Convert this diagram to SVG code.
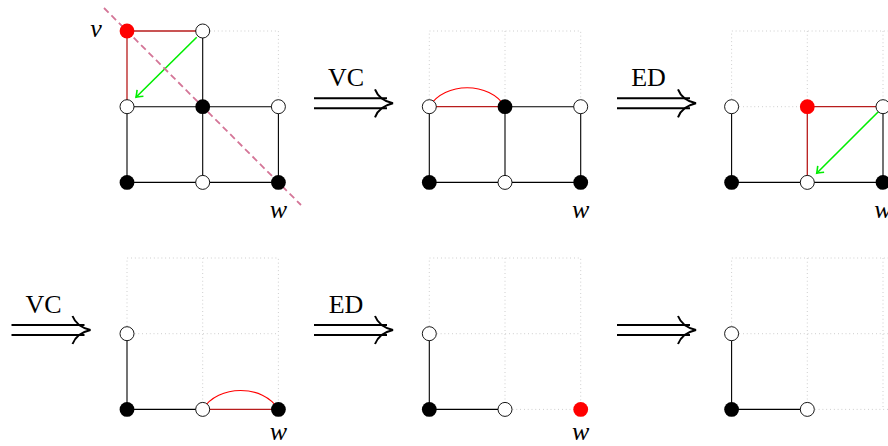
<svg xmlns="http://www.w3.org/2000/svg" width="888" height="446" viewBox="0 0 888 446">
<style>
.grid{stroke:#b4b4b4;stroke-width:0.8;stroke-dasharray:0.8 3;fill:none}
.e{stroke:#000;stroke-width:1.1;fill:none}
.re{stroke:#b81c1c;stroke-width:1.3;fill:none}
.arc{stroke:#ff0000;stroke-width:1.1;fill:none}
.ga{stroke:#00ee00;stroke-width:1.6;fill:none;marker-end:url(#to)}
.cut{stroke:#d47597;stroke-width:1.8;stroke-dasharray:6.5 4;fill:none}
.dbl{stroke:#000;stroke-width:2;fill:none}
.wn{fill:#fff;stroke:#000;stroke-width:0.9}
.bn{fill:#000}
.rn{fill:#ff0000}
.lbl{font-family:"Liberation Serif","DejaVu Serif",serif;font-size:26px;fill:#000;text-anchor:middle}
.it{font-family:"Liberation Serif","DejaVu Serif",serif;font-style:italic;font-size:26px;fill:#000;text-anchor:middle}
</style>
<defs>
<marker id="to" markerUnits="userSpaceOnUse" markerWidth="14" markerHeight="14" refX="0" refY="0" viewBox="-8 -7 10 14" orient="auto">
<path d="M-6,-4.5 Q-1.5,-1 0,0 Q-1.5,1 -6,4.5" stroke="#00ee00" stroke-width="1.6" fill="none"/>
</marker>
<g id="darrow">
<path class="dbl" d="M0,-5 H73 M0,5 H73"/>
<path class="dbl" d="M61,-14 C63.5,-7.5 70,-2 79,0 C70,2 63.5,7.5 61,14"/>
</g>
</defs>

<!-- grid (dotted) -->
<g id="grid">
<path class="grid" d="M202.7,31 H278.4 V106.7"/>
<path class="grid" d="M429.3,106.7 V31 H580.7 V106.7 M505,31 V106.7"/>
<path class="grid" d="M731.6,106.7 V31 H888 M807.3,31 V106.7 M883,31 V106.7 M731.6,106.7 H807.3"/>
<path class="grid" d="M127,333.7 V258 H278.4 V409.4 M202.7,258 V409.4 M127,333.7 H278.4"/>
<path class="grid" d="M429.3,333.7 V258 H580.7 V409.4 M505,258 V409.4 M429.3,333.7 H580.7 M505,409.4 H580.7"/>
<path class="grid" d="M731.6,333.7 V258 H888 M807.3,258 V409.4 M883,258 V409.4 M731.6,333.7 H888 M807.3,409.4 H888"/>
</g>

<!-- connectors -->
<g id="connectors">
<!-- panel 1 -->
<path class="re" d="M127,31 H202.7 M127,31 V106.7"/>
<path class="e" d="M202.7,31 V182.4 M127,106.7 H278.4 V182.4 M127,106.7 V182.4 H278.4"/>
<path class="ga" d="M196.7,37.3 L136,97.3"/>
<path class="cut" d="M104,8 L301,205"/>
<!-- panel 2 -->
<path class="re" d="M429.3,106.7 H505"/>
<path class="arc" d="M429.3,106.7 C444.3,81.4 490,81.4 505,106.7"/>
<path class="e" d="M505,106.7 H580.7 V182.4 M429.3,106.7 V182.4 H580.7 M505,106.7 V182.4"/>
<!-- panel 3 -->
<path class="re" d="M807.3,106.7 H888 M807.3,106.7 V182.4"/>
<path class="e" d="M731.6,106.7 V182.4 H888 M883,106.7 V182.4"/>
<path class="ga" d="M878.3,111.7 L816.7,173.3"/>
<!-- panel 4 -->
<path class="e" d="M127,333.7 V409.4 H202.7"/>
<path class="re" d="M202.7,409.4 H278.4"/>
<path class="arc" d="M202.7,409.4 C217.7,384.1 263.4,384.1 278.4,409.4"/>
<!-- panel 5 -->
<path class="e" d="M429.3,333.7 V409.4 H505"/>
<!-- panel 6 -->
<path class="e" d="M731.6,333.7 V409.4 H807.3"/>
<!-- transformation arrows -->
<use href="#darrow" transform="translate(314,103.3)"/>
<use href="#darrow" transform="translate(617,103.3)"/>
<use href="#darrow" transform="translate(11.5,330)"/>
<use href="#darrow" transform="translate(314,330)"/>
<use href="#darrow" transform="translate(617,330)"/>
</g>

<!-- panel 1 nodes -->
<g id="p1-v"><circle class="rn" cx="127" cy="31" r="7.4"/></g>
<g id="p1-a"><circle class="wn" cx="202.7" cy="31" r="7"/></g>
<g id="p1-b"><circle class="wn" cx="127" cy="106.7" r="7"/></g>
<g id="p1-c"><circle class="bn" cx="202.7" cy="106.7" r="7.4"/></g>
<g id="p1-d"><circle class="wn" cx="278.4" cy="106.7" r="7"/></g>
<g id="p1-e"><circle class="bn" cx="127" cy="182.4" r="7.4"/></g>
<g id="p1-f"><circle class="wn" cx="202.7" cy="182.4" r="7"/></g>
<g id="p1-w"><circle class="bn" cx="278.4" cy="182.4" r="7.4"/></g>

<!-- panel 2 nodes -->
<g id="p2-b"><circle class="wn" cx="429.3" cy="106.7" r="7"/></g>
<g id="p2-c"><circle class="bn" cx="505" cy="106.7" r="7.4"/></g>
<g id="p2-d"><circle class="wn" cx="580.7" cy="106.7" r="7"/></g>
<g id="p2-e"><circle class="bn" cx="429.3" cy="182.4" r="7.4"/></g>
<g id="p2-f"><circle class="wn" cx="505" cy="182.4" r="7"/></g>
<g id="p2-w"><circle class="bn" cx="580.7" cy="182.4" r="7.4"/></g>

<!-- panel 3 nodes -->
<g id="p3-b"><circle class="wn" cx="731.6" cy="106.7" r="7"/></g>
<g id="p3-c"><circle class="rn" cx="807.3" cy="106.7" r="7.4"/></g>
<g id="p3-d"><circle class="wn" cx="883" cy="106.7" r="7"/></g>
<g id="p3-e"><circle class="bn" cx="731.6" cy="182.4" r="7.4"/></g>
<g id="p3-f"><circle class="wn" cx="807.3" cy="182.4" r="7"/></g>
<g id="p3-w"><circle class="bn" cx="883" cy="182.4" r="7.4"/></g>

<!-- panel 4 nodes -->
<g id="p4-b"><circle class="wn" cx="127" cy="333.7" r="7"/></g>
<g id="p4-e"><circle class="bn" cx="127" cy="409.4" r="7.4"/></g>
<g id="p4-f"><circle class="wn" cx="202.7" cy="409.4" r="7"/></g>
<g id="p4-w"><circle class="bn" cx="278.4" cy="409.4" r="7.4"/></g>

<!-- panel 5 nodes -->
<g id="p5-b"><circle class="wn" cx="429.3" cy="333.7" r="7"/></g>
<g id="p5-e"><circle class="bn" cx="429.3" cy="409.4" r="7.4"/></g>
<g id="p5-f"><circle class="wn" cx="505" cy="409.4" r="7"/></g>
<g id="p5-w"><circle class="rn" cx="580.7" cy="409.4" r="7.4"/></g>

<!-- panel 6 nodes -->
<g id="p6-b"><circle class="wn" cx="731.6" cy="333.7" r="7"/></g>
<g id="p6-e"><circle class="bn" cx="731.6" cy="409.4" r="7.4"/></g>
<g id="p6-f"><circle class="wn" cx="807.3" cy="409.4" r="7"/></g>

<!-- labels -->
<g id="labels">
<text class="lbl" x="346" y="85.7">VC</text>
<text class="lbl" x="648.5" y="85.7">ED</text>
<text class="lbl" x="43.5" y="312.5">VC</text>
<text class="lbl" x="346" y="312.5">ED</text>
<text class="it" x="96" y="37">v</text>
<text class="it" x="278.4" y="218">w</text>
<text class="it" x="580.7" y="218">w</text>
<text class="it" x="883" y="218">w</text>
<text class="it" x="278.4" y="440">w</text>
<text class="it" x="580.7" y="440">w</text>
</g>
</svg>
